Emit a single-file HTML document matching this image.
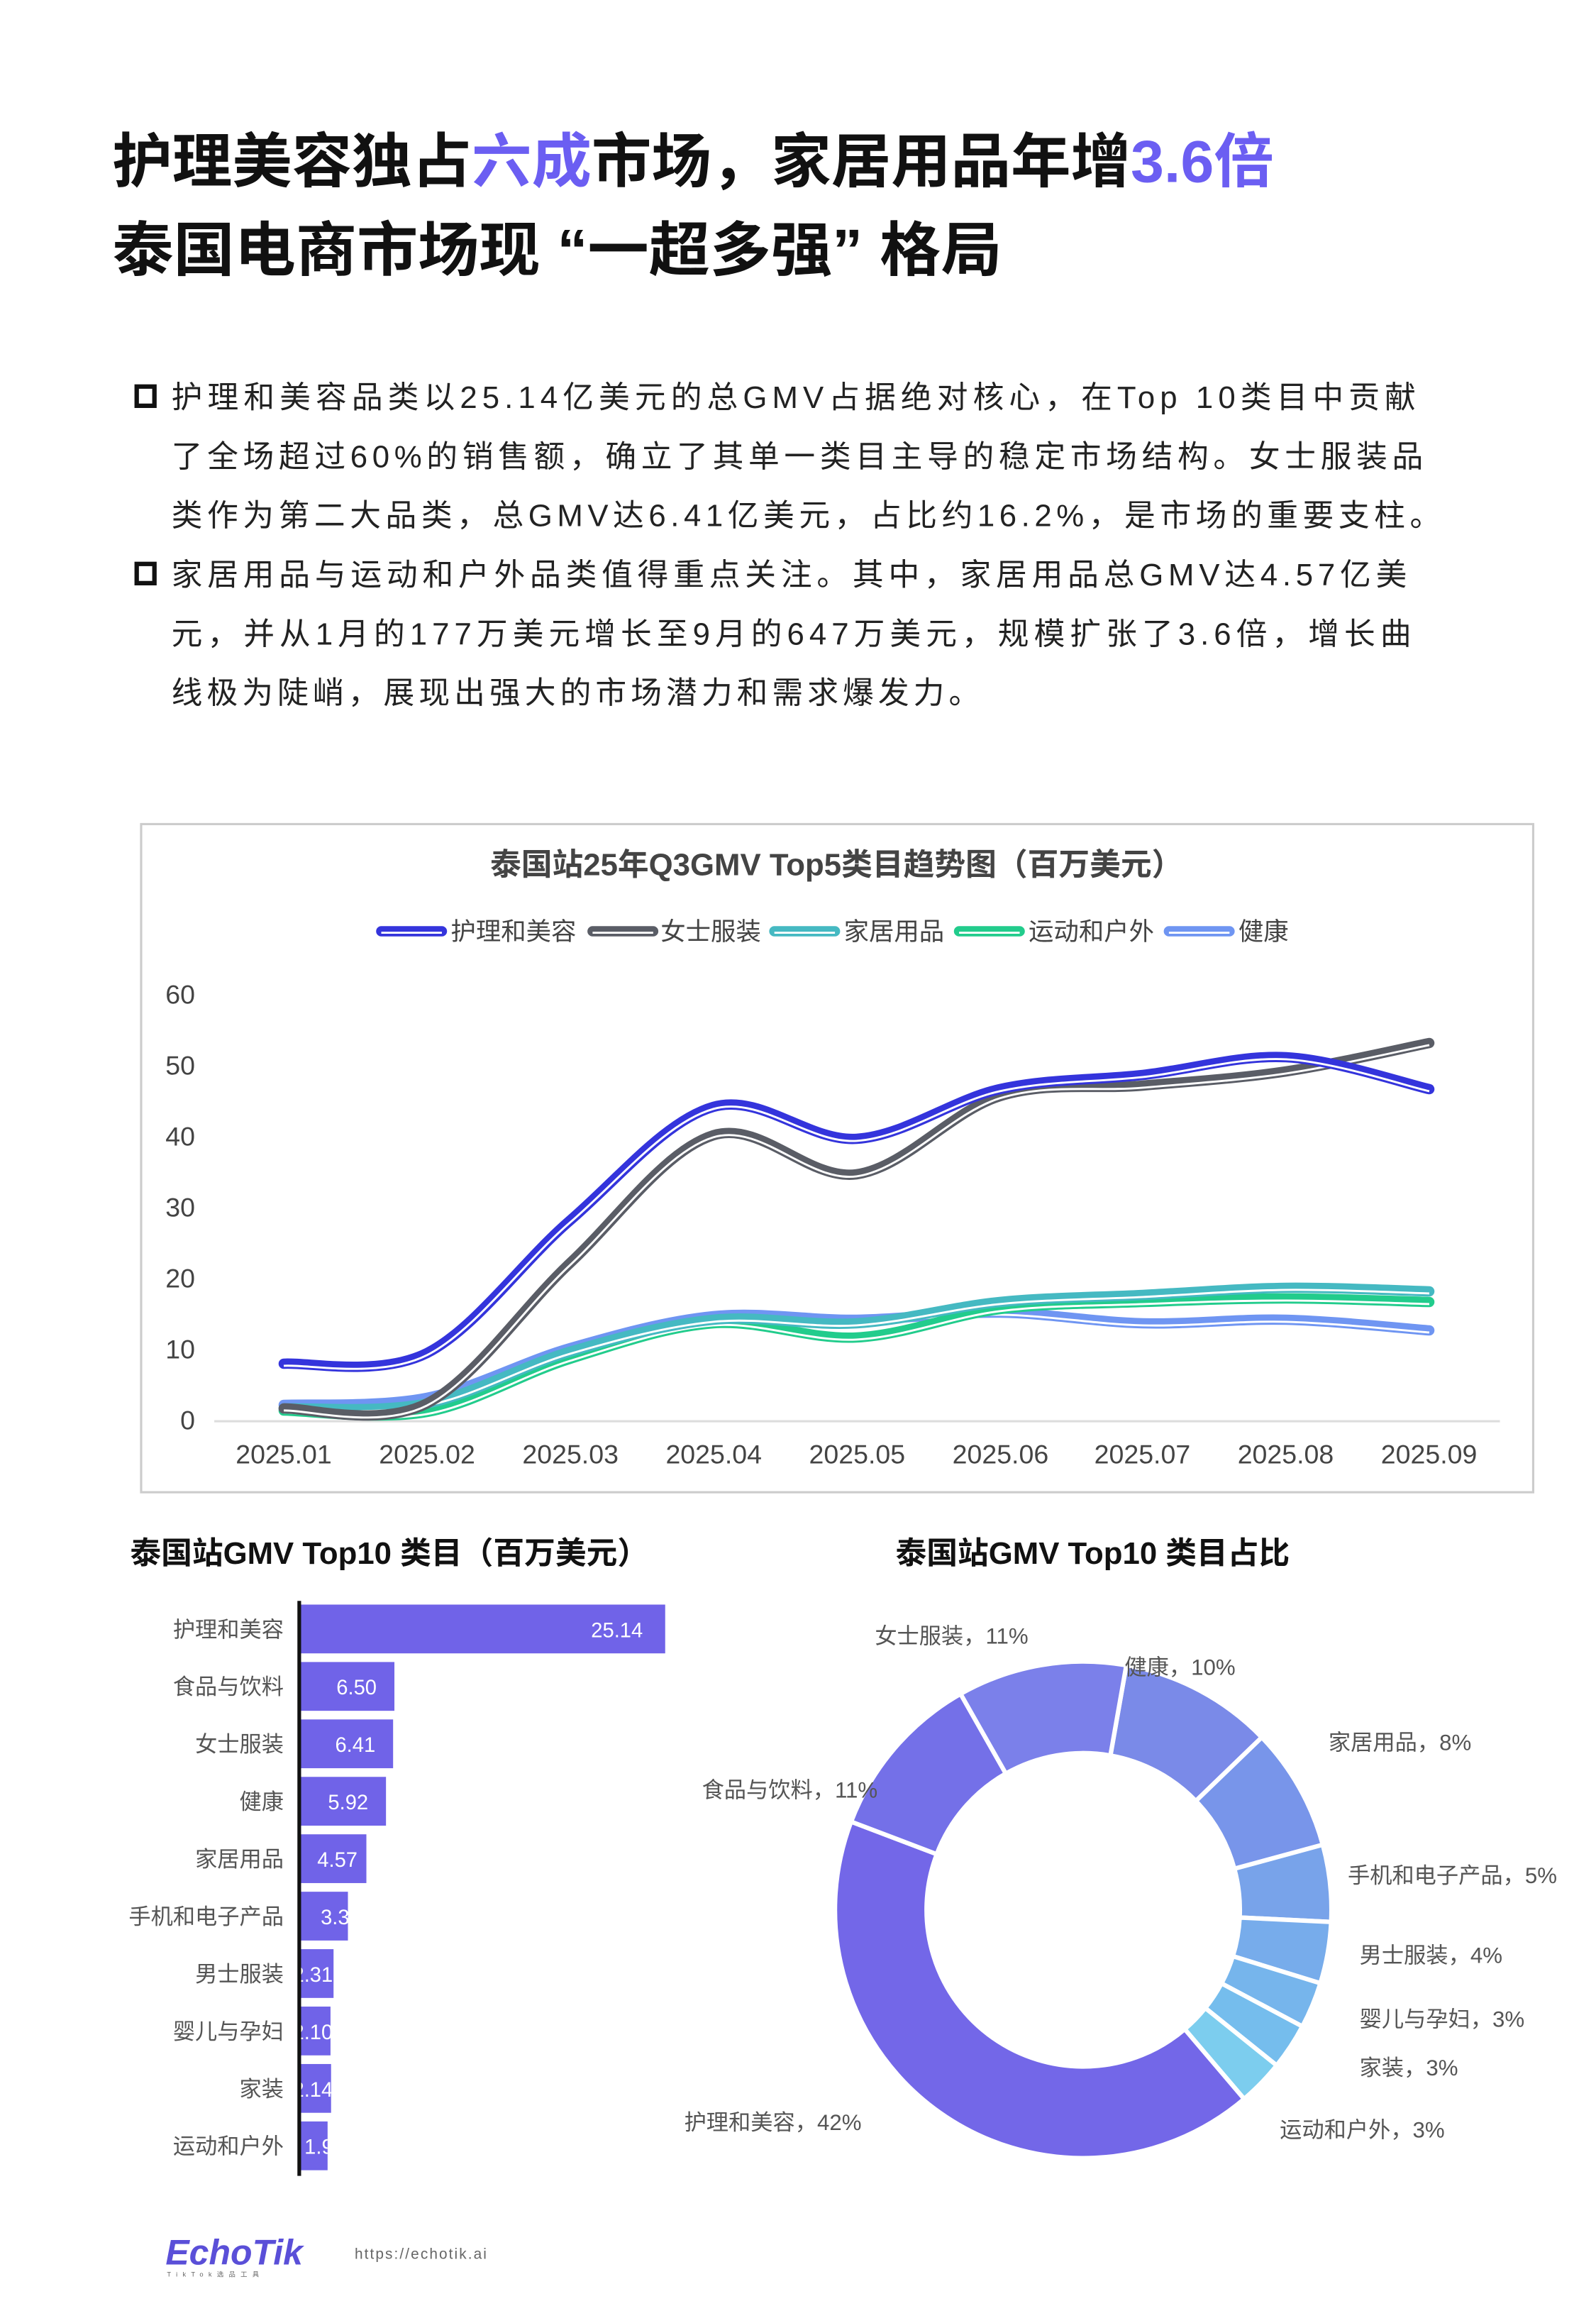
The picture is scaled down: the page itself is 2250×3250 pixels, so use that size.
<!DOCTYPE html>
<html><head><meta charset="utf-8">
<style>
html,body{margin:0;padding:0;background:#fff;}
svg{display:block;}
text{font-family:"Liberation Sans","Noto Sans CJK SC",sans-serif;}
</style></head>
<body>
<svg id="s" width="2250" height="3250" viewBox="0 0 1080 1560" xmlns="http://www.w3.org/2000/svg">
<rect width="1080" height="1560" fill="#fff"/>
<text x="76" y="123" font-size="40" font-weight="bold" fill="#111" textLength="786" lengthAdjust="spacingAndGlyphs">护理美容独占<tspan fill="#6b5ef2">六成</tspan>市场，家居用品年增<tspan fill="#6b5ef2">3.6倍</tspan></text>
<text x="76" y="183" font-size="40" font-weight="bold" fill="#111" textLength="602" lengthAdjust="spacingAndGlyphs">泰国电商市场现 “一超多强” 格局</text>
<rect x="92.5" y="261.5" width="12" height="13" fill="none" stroke="#111" stroke-width="3"/>
<rect x="92.5" y="381.5" width="12" height="13" fill="none" stroke="#111" stroke-width="3"/>
<g font-size="21" fill="#222">
<text x="116" y="276" textLength="842" lengthAdjust="spacing">护理和美容品类以25.14亿美元的总GMV占据绝对核心，在Top 10类目中贡献</text>
<text x="116" y="316" textLength="847" lengthAdjust="spacing">了全场超过60%的销售额，确立了其单一类目主导的稳定市场结构。女士服装品</text>
<text x="116" y="356" textLength="859" lengthAdjust="spacing">类作为第二大品类，总GMV达6.41亿美元，占比约16.2%，是市场的重要支柱。</text>
<text x="116" y="396" textLength="836" lengthAdjust="spacing">家居用品与运动和户外品类值得重点关注。其中，家居用品总GMV达4.57亿美</text>
<text x="116" y="436" textLength="839" lengthAdjust="spacing">元，并从1月的177万美元增长至9月的647万美元，规模扩张了3.6倍，增长曲</text>
<text x="116" y="476" textLength="547" lengthAdjust="spacing">线极为陡峭，展现出强大的市场潜力和需求爆发力。</text>
</g>
<rect x="95.5" y="557.5" width="942" height="452" fill="#fff" stroke="#ccc" stroke-width="1.5"/>
<text x="566" y="592" font-size="21" font-weight="bold" fill="#444" text-anchor="middle">泰国站25年Q3GMV Top5类目趋势图（百万美元）</text>
<g font-size="17" fill="#444">
<line x1="258" y1="630" x2="299" y2="630" stroke="#3434dc" stroke-width="7" stroke-linecap="round"/><line x1="258" y1="631" x2="299" y2="631" stroke="#fff" stroke-width="1.4"/>
<text x="305" y="636">护理和美容</text>
<line x1="401" y1="630" x2="442" y2="630" stroke="#5a5d66" stroke-width="7" stroke-linecap="round"/><line x1="401" y1="631" x2="442" y2="631" stroke="#fff" stroke-width="1.4"/>
<text x="447" y="636">女士服装</text>
<line x1="524" y1="630" x2="565" y2="630" stroke="#45b9c2" stroke-width="7" stroke-linecap="round"/><line x1="524" y1="631" x2="565" y2="631" stroke="#fff" stroke-width="1.4"/>
<text x="571" y="636">家居用品</text>
<line x1="649" y1="630" x2="690" y2="630" stroke="#22cc8c" stroke-width="7" stroke-linecap="round"/><line x1="649" y1="631" x2="690" y2="631" stroke="#fff" stroke-width="1.4"/>
<text x="696" y="636">运动和户外</text>
<line x1="791" y1="630" x2="832" y2="630" stroke="#6f95f2" stroke-width="7" stroke-linecap="round"/><line x1="791" y1="631" x2="832" y2="631" stroke="#fff" stroke-width="1.4"/>
<text x="838" y="636">健康</text>
</g>
<g font-size="18" fill="#444" text-anchor="end">
<text x="132" y="679">60</text><text x="132" y="727">50</text><text x="132" y="775">40</text>
<text x="132" y="823">30</text><text x="132" y="871">20</text><text x="132" y="919">10</text><text x="132" y="967">0</text>
</g>
<line x1="145" y1="961.5" x2="1015" y2="961.5" stroke="#ddd" stroke-width="1.5"/>
<g font-size="18" fill="#444" text-anchor="middle">
<text x="192" y="990">2025.01</text><text x="289" y="990">2025.02</text><text x="386" y="990">2025.03</text>
<text x="483" y="990">2025.04</text><text x="580" y="990">2025.05</text><text x="677" y="990">2025.06</text>
<text x="773" y="990">2025.07</text><text x="870" y="990">2025.08</text><text x="967" y="990">2025.09</text>
</g>
<g id="lines"></g>
<text x="88" y="1058" font-size="21" font-weight="bold" fill="#111">泰国站GMV Top10 类目（百万美元）</text>
<text x="606" y="1058" font-size="21" font-weight="bold" fill="#111">泰国站GMV Top10 类目占比</text>
<g id="bars"></g>
<line x1="202.5" y1="1083" x2="202.5" y2="1472" stroke="#111" stroke-width="2.5"/>
<g id="donut"></g>
<g font-size="15" fill="#555">
<text x="592" y="1112">女士服装，11%</text>
<text x="761" y="1133">健康，10%</text>
<text x="899" y="1184">家居用品，8%</text>
<text x="912" y="1274">手机和电子产品，5%</text>
<text x="920" y="1328">男士服装，4%</text>
<text x="920" y="1371">婴儿与孕妇，3%</text>
<text x="920" y="1404">家装，3%</text>
<text x="866" y="1446">运动和户外，3%</text>
<text x="475" y="1216">食品与饮料，11%</text>
<text x="463" y="1441">护理和美容，42%</text>
</g>
<text x="112" y="1532" font-size="24" font-weight="bold" font-style="italic" fill="#5a4fd8">EchoTik</text>
<text x="113" y="1540" font-size="4.5" fill="#666" letter-spacing="3.5">TikTok选品工具</text>
<text x="240" y="1528" font-size="10" fill="#666" letter-spacing="1">https://echotik.ai</text>
</svg>
<script>
var NS="http://www.w3.org/2000/svg";
function el(t,a,p){var e=document.createElementNS(NS,t);for(var k in a)e.setAttribute(k,a[k]);p.appendChild(e);return e;}
var series=[
 ["#6f95f2",[2,3,10,14.5,14,15,13.5,14,12.5]],
 ["#22cc8c",[1.2,1,8.5,13.5,11.5,15.5,16.5,17,16.5]],
 ["#45b9c2",[1.5,2.2,9.5,14,13.5,16.5,17.5,18.5,18]],
 ["#5a5d66",[1.5,2.2,22,40,34.5,45.5,47,49,53]],
 ["#3434dc",[7.8,9.3,28,44,39.5,46.5,48.5,51,46.5]]
];
var L=document.getElementById("lines");
function path(pts,dy){var d="M"+pts[0][0]+","+(pts[0][1]+dy);
 for(var i=0;i<pts.length-1;i++){var p0=pts[Math.max(i-1,0)],p1=pts[i],p2=pts[i+1],p3=pts[Math.min(i+2,pts.length-1)];
 var t=6;d+=" C"+(p1[0]+(p2[0]-p0[0])/t)+","+(p1[1]+(p2[1]-p0[1])/t+dy)+" "+(p2[0]-(p3[0]-p1[0])/t)+","+(p2[1]-(p3[1]-p1[1])/t+dy)+" "+p2[0]+","+(p2[1]+dy);}
 return d;}
series.forEach(function(s){var pts=s[1].map(function(v,i){return [192+i*96.9,960-v*4.8];});
 el("path",{d:path(pts,0),fill:"none",stroke:s[0],"stroke-width":7,"stroke-linecap":"round"},L);
 el("path",{d:path(pts,1.4),fill:"none",stroke:"#fff","stroke-width":1.4},L);
});
var B=document.getElementById("bars");
var bars=[["护理和美容",25.14,"25.14"],["食品与饮料",6.5,"6.50"],["女士服装",6.41,"6.41"],["健康",5.92,"5.92"],["家居用品",4.57,"4.57"],["手机和电子产品",3.3,"3.3"],["男士服装",2.31,"2.31"],["婴儿与孕妇",2.1,"2.10"],["家装",2.14,"2.14"],["运动和户外",1.9,"1.9"]];
bars.forEach(function(b,i){var cy=1102+i*38.85,w=b[1]*9.83;
 el("rect",{x:203,y:cy-16.5,width:w,height:33,fill:"#7063e8"},B);
 var t=el("text",{x:192,y:cy+5.5,"font-size":15,fill:"#555","text-anchor":"end"},B);t.textContent=b[0];
 var cp=el("clipPath",{id:"c"+i},B);el("rect",{x:199,y:cy-16.5,width:w+4,height:33},cp);
 var v=el("text",{x:203+w-12,y:cy+5.5,"font-size":14,fill:"#fff","text-anchor":"end","clip-path":"url(#c"+i+")"},B);
 if(i==0){v.setAttribute("x",435);}else if(i<5){v.setAttribute("x",203+w-(w<50?6:12));}else{v.setAttribute("text-anchor","start");v.setAttribute("x",i==5?217:(i==9?206:198));}
 v.textContent=b[2];
});
var D=document.getElementById("donut");
var cx=733,cy=1292,R=168,r=106;
var seg=[[10,"#7a8ae8"],[8,"#7895ea"],[5,"#78a3ea"],[4,"#77aceb"],[3,"#76b5ec"],[3,"#75bded"],[3,"#7ccdee"],[42,"#7367e8"],[11,"#7470e8"],[11,"#7b80ea"]];
var a=10;
function P(rad,deg){var t=(deg-90)*Math.PI/180;return [cx+rad*Math.cos(t),cy+rad*Math.sin(t)];}
seg.forEach(function(s){var a2=a+s[0]*3.6,lg=(a2-a)>180?1:0;
 var p1=P(R,a),p2=P(R,a2),p3=P(r,a2),p4=P(r,a);
 el("path",{d:"M"+p1+" A"+R+","+R+" 0 "+lg+" 1 "+p2+" L"+p3+" A"+r+","+r+" 0 "+lg+" 0 "+p4+" Z",fill:s[1],stroke:"#fff","stroke-width":3},D);
 a=a2;});
</script>
</body></html>
